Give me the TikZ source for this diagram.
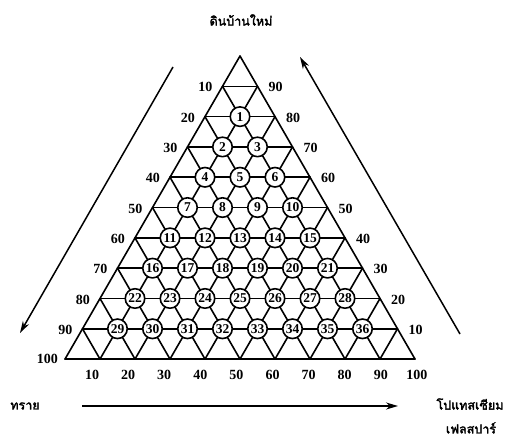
\documentclass[tikz,border=0pt]{standalone}
\usepackage{fontspec}
\setmainfont{Liberation Serif}
\newfontfamily\thai[Script=Thai, AutoFakeBold=2.5]{Loma}
\usetikzlibrary{arrows.meta}

\begin{document}
\begin{tikzpicture}[x=1pt,y=-1pt,
  grid/.style={line width=1.6pt, line cap=round, line join=round},
  pt/.style={circle, draw, fill=white, line width=1.6pt, minimum size=19.5pt,
    inner sep=0pt, font=\bfseries\fontsize{13.5}{13.5}\selectfont},
  tick/.style={font=\bfseries\fontsize{14}{14}\selectfont, inner sep=0pt},
  axis/.style={line width=1.5pt, -{Stealth[length=12pt,width=7pt]}},
  thaitext/.style={font=\thai\bfseries\fontsize{12.5}{12.5}\selectfont, inner sep=0pt}]
\useasboundingbox (0,0) rectangle (527,441);

% lattice points of the ternary grid: row k (from the apex), position j
\foreach \k in {0,...,10}{
  \foreach \j in {0,...,\k}{
    \coordinate (p\k-\j) at ({240-17.5*\k+35*\j},{56+30.31*\k});
  }
}

% horizontal lines
\foreach \k in {1,...,10}{
  \draw[grid] (p\k-0) -- (p\k-\k);
}
% lines parallel to the left side
\foreach \j in {0,...,9}{
  \draw[grid] (p\j-\j) -- (p10-\j);
}
% lines parallel to the right side
\foreach \m in {0,...,9}{
  \pgfmathtruncatemacro\r{10-\m}
  \draw[grid] (p\m-0) -- (p10-\r);
}

% numbered sample points
\foreach \k in {2,...,9}{
  \pgfmathtruncatemacro\km{\k-1}
  \foreach \j in {1,...,\km}{
    \pgfmathtruncatemacro\n{(\k-2)*(\k-1)/2+\j}
    \node[pt] (c\n) at (p\k-\j) {\n};
  }
}

% scale on the left side
\foreach \k in {1,...,9}{
  \pgfmathtruncatemacro\v{10*\k}
  \node[tick, anchor=east] (l\k) at ([xshift=-10pt,yshift=-1pt]p\k-0) {\v};
}
\node[tick, anchor=east] (l10) at ([xshift=-7pt]p10-0) {100};

% scale on the right side
\foreach \k in {1,...,9}{
  \pgfmathtruncatemacro\v{100-10*\k}
  \node[tick, anchor=west] (r\k) at ([xshift=11pt,yshift=-1pt]p\k-\k) {\v};
}

% scale along the base
\foreach \j in {1,...,10}{
  \pgfmathtruncatemacro\v{10*\j}
  \node[tick] (b\j) at ([xshift={-9.1+1.1*\j},yshift=-16pt]p10-\j) {\v};
}

% component names
\node[thaitext] (top) at (241,20) {ดินบ้านใหม่};
\node[thaitext] (sand) at (25,406) {ทราย};
\node[thaitext] (kf1) at (470,404) {โปแทสเซียม};
\node[thaitext] (kf2) at (471,428) {เฟลสปาร์};

% direction arrows
\coordinate (la1) at (173,67);
\coordinate (la2) at (20,333);
\draw[axis] (la1) -- (la2);
\coordinate (ra1) at (460,334);
\coordinate (ra2) at (300,57);
\draw[axis] (ra1) -- (ra2);
\coordinate (ba1) at (82,406);
\coordinate (ba2) at (398,406);
\draw[axis] (ba1) -- (ba2);
\end{tikzpicture}
\end{document}
